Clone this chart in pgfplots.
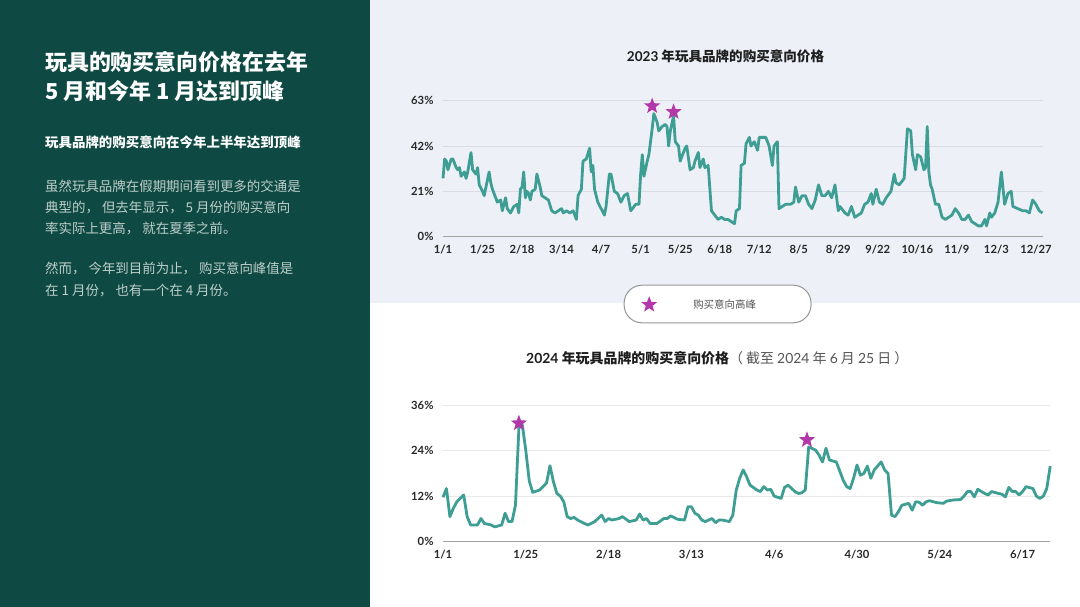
\documentclass[border=0pt]{standalone}
\usepackage{fontspec}
\setmainfont{Noto Sans CJK SC}
\newfontfamily\lato{Lato}
\usepackage{pgfplots}
\pgfplotsset{compat=1.18}
\definecolor{leftgreen}{RGB}{14,74,67}
\definecolor{topbg}{RGB}{237,241,247}
\definecolor{teal1}{RGB}{62,158,148}
\definecolor{starc}{RGB}{178,56,170}
\definecolor{gridc}{RGB}{216,221,229}
\definecolor{gridw}{RGB}{232,232,232}
\definecolor{axisc}{RGB}{160,160,160}
\definecolor{tickc}{RGB}{40,40,40}
\definecolor{paratext}{RGB}{190,206,202}
\definecolor{legc}{RGB}{150,150,150}
\definecolor{legtext}{RGB}{85,85,85}
\definecolor{titc}{RGB}{30,30,30}

\pgfdeclareplotmark{fivestar}{%
  \pgfpathmoveto{\pgfpointpolar{90}{\pgfplotmarksize}}%
  \pgfpathlineto{\pgfpointpolar{126}{0.42\pgfplotmarksize}}%
  \pgfpathlineto{\pgfpointpolar{162}{\pgfplotmarksize}}%
  \pgfpathlineto{\pgfpointpolar{198}{0.42\pgfplotmarksize}}%
  \pgfpathlineto{\pgfpointpolar{234}{\pgfplotmarksize}}%
  \pgfpathlineto{\pgfpointpolar{270}{0.42\pgfplotmarksize}}%
  \pgfpathlineto{\pgfpointpolar{306}{\pgfplotmarksize}}%
  \pgfpathlineto{\pgfpointpolar{342}{0.42\pgfplotmarksize}}%
  \pgfpathlineto{\pgfpointpolar{18}{\pgfplotmarksize}}%
  \pgfpathlineto{\pgfpointpolar{54}{0.42\pgfplotmarksize}}%
  \pgfpathclose
  \pgfusepathqfill
}

\pgfplotsset{
 mychart/.style={
  scale only axis, enlargelimits=false, clip=false,
  axis lines*=left, axis line style={-},
  y axis line style={draw=none},
  x axis line style={draw=axisc, line width=1.5bp},
  major tick length=0pt,
  ymajorgrids,
  tick label style={font=\lato\bfseries\fontsize{11.3}{13}\selectfont, text=tickc},
  /pgf/number format/assume math mode=true,
  yticklabel={\pgfmathprintnumber{\tick}\%},
  yticklabel style={xshift=-6bp},
  xticklabel style={yshift=-5bp},
 },
 myline/.style={teal1, line width=2.8bp, line join=round, no marks, forget plot},
 mystar/.style={only marks, mark=fivestar, mark size=8.5bp, color=starc, mark options={fill=starc, draw=none}},
}

\begin{document}
\begin{tikzpicture}[x=1bp,y=1bp]
\fill[leftgreen] (0,0) rectangle (370,607);
\fill[topbg] (370,304) rectangle (1080,607);
\fill[white] (370,0) rectangle (1080,304);

% left panel text
\node[anchor=base west, inner sep=0, text=white, font=\bfseries\fontsize{22}{26}\selectfont] at (45,536) {玩具的购买意向价格在去年};
\node[anchor=base west, inner sep=0, text=white, font=\bfseries\fontsize{22}{26}\selectfont] at (45,507) {5 月和今年 1 月达到顶峰};
\node[anchor=base west, inner sep=0, text=white, font=\bfseries\fontsize{13.5}{16}\selectfont] at (45,459) {玩具品牌的购买意向在今年上半年达到顶峰};
\begin{scope}[every node/.style={anchor=base west, inner sep=0, text=paratext, font=\fontsize{13.5}{16}\selectfont}]
\node at (45,415) {虽然玩具品牌在假期期间看到更多的交通是};
\node at (45,394) {典型的， 但去年显示， 5 月份的购买意向};
\node at (45,373) {率实际上更高， 就在夏季之前。};
\node at (45,333) {然而， 今年到目前为止， 购买意向峰值是};
\node at (45,311) {在 1 月份， 也有一个在 4 月份。};
\end{scope}

% titles
\node[anchor=base, inner sep=0, text=titc, font=\bfseries\fontsize{13.6}{16}\selectfont] at (725.5,545) {{\lato 2023} 年玩具品牌的购买意向价格};
\node[anchor=base west, inner sep=0, font=\fontsize{14}{17}\selectfont] at (526,243) {\textcolor{titc}{\bfseries{\lato 2024} 年玩具品牌的购买意向价格}\textcolor{legtext}{（ 截至 {\lato 2024} 年 {\lato 6} 月 {\lato 25} 日 ）}};

\begin{axis}[mychart, at={(443bp,370.3bp)}, anchor=south west,
  width=599.5bp, height=136bp,
  xmin=0, xmax=364, ymin=0, ymax=63,
  ytick={0,21,42,63},
  xtick={0,24,48,72,96,120,144,168,192,216,240,264,288,312,336,360},
  xticklabels={1/1,1/25,2/18,3/14,4/7,5/1,5/25,6/18,7/12,8/5,8/29,9/22,10/16,11/9,12/3,12/27},
  major grid style={gridc, line width=0.8bp},
  legend style={at={(0.458,-0.495)}, anchor=center, draw=legc, line width=1bp, fill=white,
    rounded corners=18bp, inner xsep=17bp, inner ysep=11bp,
    font=\fontsize{10.5}{12}\selectfont, text=legtext,
    /tikz/every odd column/.append style={column sep=34bp}},
]
\addplot[myline] coordinates {
(0,27)(1,36)(2,35)(3,31)(5,36)(6,36)(8,32)(9,31)(10,32)(11,28)(13,30)(14,27)(15,30)(17,39)(18,31)(20,29)(21,32)(22,24)(24,21)(25,19)(28,30)(29,25)(30,22)(33,16)(35,17)(36,12)(38,18)(39,13)(41,11)(43,14)(45,15)(46,11)(47,22)(48,23)(49,30)(50,18)(51,21)(52,20)(53,17)(54,21)(56,22)(57,29)(59,23)(60,19)(62,18)(64,17)(66,12)(68,11)(70,12)(72,13)(73,11)(75,12)(77,11)(79,12)(81,8)(82,19)(84,22)(85,35)(87,36)(89,41)(90,30)(91,33)(92,22)(94,16)(96,13)(98,10)(99,14)(101,29)(102,29)(104,21)(106,20)(108,16)(110,19)(112,20)(114,12)(117,15)
(119,15)(120,29)(121,38)(122,28)(124,35)(125,38)(127,50)(128,57)(130,53)(131,49)(133,51)(135,52)(136,51)(137,42)(138,49)(140,56)(141,44)(143,42)(144,35)(146,39)(147,41)(148,42)(150,31)(152,32)(153,35)(155,39)(156,32)(158,36)(159,32)(161,33)(163,12)(165,10)(167,8)(169,9)(171,8)(173,8)(175,7)(177,6)(178,12)(180,13)(181,33)(183,34)(184,43)(186,46)(187,42)(189,44)(191,40)(192,46)(194,46)(196,46)(198,42)(200,33)(201,42)(203,44)(204,13)(206,14)(208,15)(211,15)(213,16)(214,23)(216,16)(218,19)(220,19)(222,15)(224,13)(226,17)(228,24)(230,19)(232,19)(234,21)(236,18)(238,24)(240,12)
(241,14)(244,11)(246,10)(248,14)(250,9)(252,10)(254,11)(256,15)(258,16)(260,20)(261,15)(263,22)(265,16)(267,15)(269,18)(272,21)(274,29)(275,25)(277,24)(280,27)(282,50)(284,49)(285,38)(287,31)(288,38)(290,37)(292,31)(293,32)(294,51)(295,30)(296,24)(297,22)(299,15)(301,15)(303,9)(305,8)(307,9)(309,10)(311,13)(313,11)(315,8)(317,8)(319,10)(321,7)(323,6)(325,5)(327,5)(329,8)(330,5)(332,11)(333,9)(335,11)(337,16)(339,30)(341,15)(343,20)(345,21)(346,14)(349,13)(352,12)(354,12)(356,11)(358,17)(360,15)(362,12)(364,11)
};
\addplot[mystar] coordinates {(127,60.5)(140,57.8)};
\addlegendentry{购买意向高峰\hspace*{36bp}}
\end{axis}

\begin{axis}[mychart, at={(443bp,65.3bp)}, anchor=south west,
  width=607.2bp, height=136.7bp,
  xmin=0, xmax=176, ymin=0, ymax=36,
  ytick={0,12,24,36},
  xtick={0,24,48,72,96,120,144,168},
  xticklabels={1/1,1/25,2/18,3/13,4/6,4/30,5/24,6/17},
  major grid style={gridw, line width=0.8bp},
]
\addplot[myline] coordinates {
(0,11.7)(1,14)(2,6.6)(3,8.8)(4,10.5)(6,12.3)(7,6.6)(8,4.4)(10,4.4)(11,6.1)(12,4.8)(14,4.4)(15,3.9)(17,4.4)(18,7.5)(19,5.3)(20,5.3)(21,9.6)(22,30)(23,30.7)(24,24)(25,16)(26,13)(28,13.6)(30,15.4)(31,20)(32,15.8)(33,12.7)(34,12)(35,10.5)(36,6.6)(37,6.1)(38,6.4)(39,5.7)(41,4.8)(42,4.4)(44,5.3)(46,7)(47,5.3)(48,6.1)(49,5.7)(51,6.1)(52,6.6)(54,5.3)(56,5.7)(57,7.3)(58,5.7)(59,6.1)(60,4.8)(62,4.8)(64,6.1)(65,6.1)(66,6.8)(68,5.9)(70,5.7)(71,9.2)(72,9.2)(73,7.5)(74,7)(75,5.7)(76,5.3)(78,6.1)(79,5)(80,5.7)(81,5.7)(83,5.3)(84,7)(85,13.6)(86,16.7)(87,18.9)(88,17.1)(89,14.9)(91,13.6)(92,13.2)(93,14.5)(94,13.6)(95,13.8)(96,12)(98,11.4)(99,14.3)(100,14.9)(102,13.2)(103,12.7)(104,12.9)(105,13.6)(106,25)(108,24.1)(109,22.8)(110,21)(111,24.6)(112,21.5)(114,21)(116,16.2)(117,14.5)(118,14)(119,16.7)(120,20.2)(121,17.5)(122,18)(123,19.9)(124,16.7)(125,18.9)(127,21)(128,18.9)(129,18)(130,7)(131,6.6)(132,7.9)(133,9.6)(135,10.1)(136,8.3)(137,10.5)(138,10.4)(139,9.6)(140,10.5)(141,10.8)(143,10.3)(145,10.1)(146,10.7)(148,11)(150,11.1)(151,12)(152,13.2)(153,13.2)(154,11.8)(155,13.8)(157,12.7)(158,12.3)(159,13.2)(161,12.7)(162,12.5)(163,11.8)(164,14.3)(165,13.2)(166,13.2)(167,12.3)(168,13.2)(169,14.5)(171,14)(172,12)(173,11.4)(174,12)(175,14)(176,19.9)
};
\addplot[mystar] coordinates {(22,31.2)(105.5,26.8)};
\end{axis}
\end{tikzpicture}
\end{document}
